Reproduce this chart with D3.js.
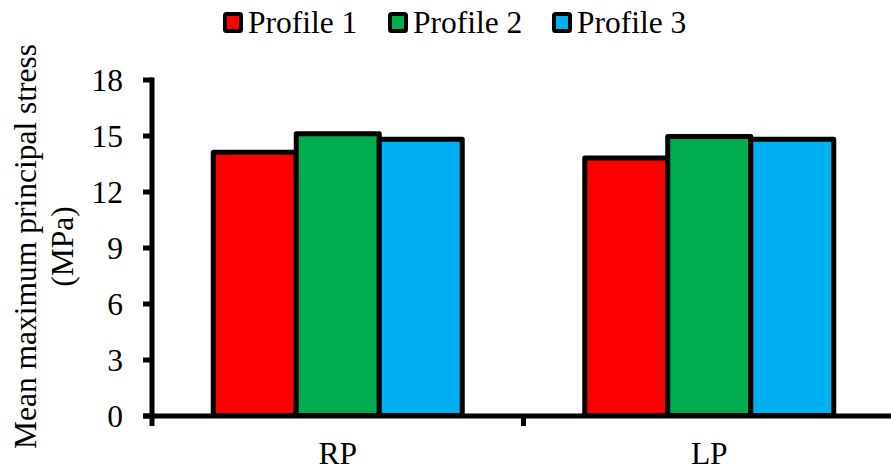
<!DOCTYPE html>
<html>
<head>
<meta charset="utf-8">
<script src="https://cdn.jsdelivr.net/npm/d3@7"></script>
<style>
  html, body { margin: 0; padding: 0; background: #fff; }
  svg { display: block; }
  text { font-family: "Liberation Serif", "Times New Roman", serif; fill: #000; }
</style>
</head>
<body>
<svg id="chart" width="891" height="470"></svg>
<script>
// Mean maximum principal stress per region and profile
const categories = ["RP", "LP"];
const seriesNames = ["Profile 1", "Profile 2", "Profile 3"];
const seriesColors = ["#ff0000", "#00ad4f", "#00b0f0"];
const profile1 = [14.1, 13.8];
const profile2 = [15.1, 14.95];
const profile3 = [14.8, 14.8];
const yTicks = [0, 3, 6, 9, 12, 15, 18];
const yTitle = ["Mean maximum principal stress", "(MPa)"];

const seriesValues = [profile1, profile2, profile3];
const rows = categories.map((c, i) => ({
  category: c,
  values: seriesNames.map((s, j) => ({ series: s, color: seriesColors[j], value: seriesValues[j][i] }))
}));

const svg = d3.select("#chart");
const plot = { left: 152, right: 895, top: 79.5, bottom: 415.5 };
const fontSize = "31.5px";
const lineW = 5;

const x = d3.scaleBand()
  .domain(categories)
  .range([plot.left, plot.right])
  .padding(0);

const groupFrac = 249 / 371.5;
const inner = d3.scaleBand()
  .domain(seriesNames)
  .range([0, x.bandwidth() * groupFrac])
  .padding(0);

const y = d3.scaleLinear().domain([0, 18]).range([plot.bottom, plot.top]);

// Bars
const groups = svg.append("g")
  .selectAll("g")
  .data(rows)
  .join("g")
  .attr("transform", d => `translate(${x(d.category) + x.bandwidth() * (1 - groupFrac) / 2},0)`);

groups.selectAll("rect")
  .data(d => d.values)
  .join("rect")
  .attr("x", d => inner(d.series))
  .attr("y", d => y(d.value))
  .attr("width", inner.bandwidth())
  .attr("height", d => y(0) - y(d.value))
  .attr("fill", d => d.color)
  .attr("stroke", "#000")
  .attr("stroke-width", lineW)
  .attr("stroke-linejoin", "round");

// Y axis
const yAxis = svg.append("g")
  .attr("transform", `translate(${plot.left},0)`)
  .call(d3.axisLeft(y).tickValues(yTicks).tickSize(9).tickPadding(20).tickSizeOuter(0));
yAxis.select(".domain").attr("stroke", "#000").attr("stroke-width", lineW)
  .attr("d", `M0,${plot.top - 2}V${plot.bottom + 3}`);
yAxis.selectAll(".tick line").attr("stroke", "#000").attr("stroke-width", lineW);
yAxis.selectAll(".tick text")
  .attr("font-size", fontSize)
  .attr("dy", "0.34em");

// X axis
const xAxis = svg.append("g")
  .attr("transform", `translate(0,${plot.bottom + 0.5})`)
  .call(d3.axisBottom(x).tickSize(0).tickPadding(26).tickSizeOuter(0));
xAxis.select(".domain").attr("stroke", "#000").attr("stroke-width", lineW)
  .attr("d", `M${plot.left - 9},0H${plot.right}`);
xAxis.selectAll(".tick text")
  .attr("font-size", fontSize)
  .attr("dy", "0.71em");

// Category separator ticks on the x axis
const sepTicks = [plot.left, x("LP")];
xAxis.selectAll("line.sep")
  .data(sepTicks)
  .join("line")
  .attr("class", "sep")
  .attr("x1", d => d).attr("x2", d => d)
  .attr("y1", 0).attr("y2", 10)
  .attr("stroke", "#000").attr("stroke-width", lineW);

// Y title (two lines)
const titleG = svg.append("g").attr("transform", "translate(0,246.5) rotate(-90)");
titleG.selectAll("text")
  .data(yTitle)
  .join("text")
  .attr("x", 0)
  .attr("y", (d, i) => 36 + i * 37)
  .attr("text-anchor", "middle")
  .attr("font-size", fontSize)
  .text(d => d);

// Legend
const legendX = [223, 388, 552];
const legend = svg.append("g")
  .selectAll("g")
  .data(seriesNames)
  .join("g")
  .attr("transform", (d, i) => `translate(${legendX[i]},0)`);
legend.append("rect")
  .attr("x", 2).attr("y", 14)
  .attr("width", 16).attr("height", 17)
  .attr("rx", 1.5)
  .attr("fill", (d, i) => seriesColors[i])
  .attr("stroke", "#000")
  .attr("stroke-width", 4);
legend.append("text")
  .attr("x", 25)
  .attr("y", 33)
  .attr("font-size", fontSize)
  .text(d => d);
</script>
</body>
</html>
